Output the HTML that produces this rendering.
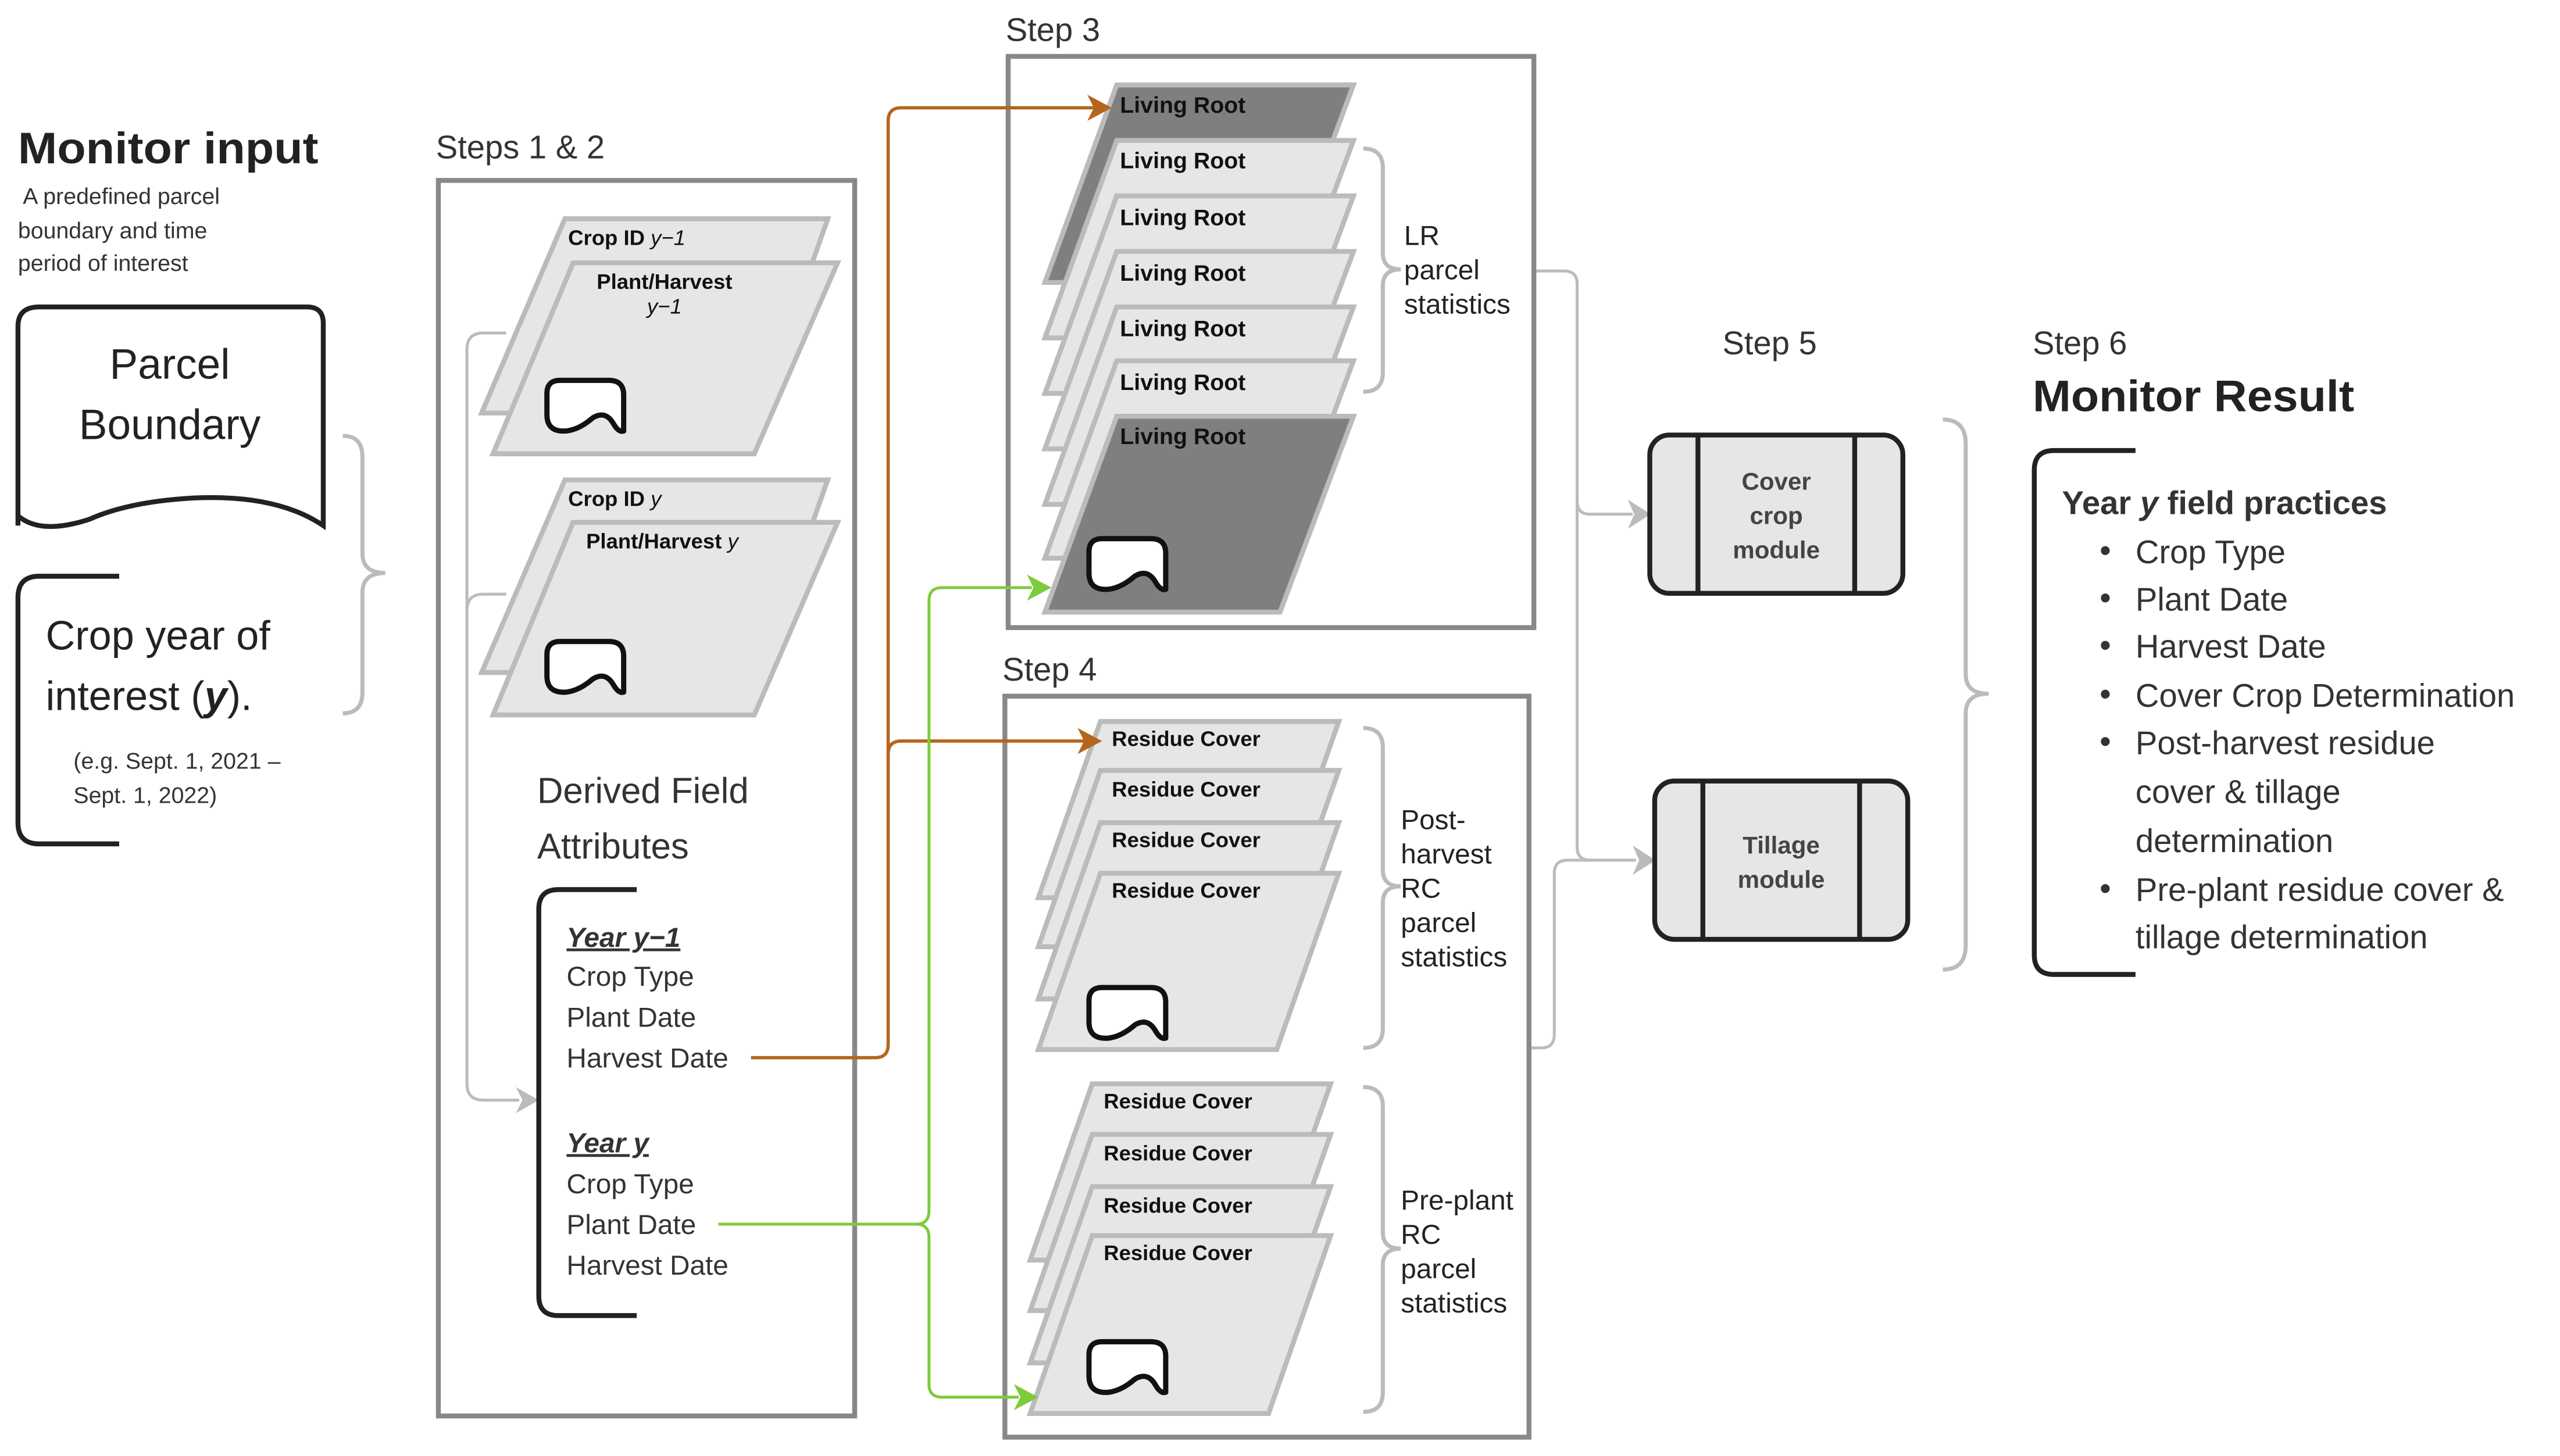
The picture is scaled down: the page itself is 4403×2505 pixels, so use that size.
<!DOCTYPE html>
<html><head><meta charset="utf-8"><style>
html,body{margin:0;padding:0;background:#fff;}
svg{display:block;}
text{font-family:"Liberation Sans",sans-serif;}
</style></head><body>
<svg xmlns="http://www.w3.org/2000/svg" width="4403" height="2505" viewBox="0 0 1568 892">
<defs>
<g id="blob"><path d="M2,9 Q2,1 10,1 L40,1 Q49,1 49,10 L49,32 Q46,33 43,28 Q38,19 30,24 Q22,31 14,32 Q2,33 2,22 Z" fill="#fff" stroke="#111" stroke-width="3.2" stroke-linejoin="round"/></g>
</defs>
<rect width="1568" height="892" fill="#fff"/>

<!-- Monitor input -->
<text x="11" y="100" font-size="27" font-weight="bold" fill="#222" textLength="184" lengthAdjust="spacingAndGlyphs">Monitor input</text>
<text font-size="14" fill="#333"><tspan x="14" y="125">A predefined parcel</tspan><tspan x="11" y="146">boundary and time</tspan><tspan x="11" y="166">period of interest</tspan></text>
<path d="M11,322 L11,200 Q11,188 24,188 L188,188 Q198,188 198,198 L198,322 Q170,303 120,305 Q80,307 55,318 Q25,328 11,316" fill="none" stroke="#222" stroke-width="3"/>
<text x="104" y="232" font-size="26" fill="#222" text-anchor="middle">Parcel</text>
<text x="104" y="269" font-size="26" fill="#222" text-anchor="middle">Boundary</text>
<path d="M73,353 L24,353 Q11,353 11,366 L11,504 Q11,517 24,517 L73,517" fill="none" stroke="#222" stroke-width="3"/>
<text x="28" y="398" font-size="25" fill="#222">Crop year of</text>
<text x="28" y="435" font-size="25" fill="#222">interest (<tspan font-weight="bold" font-style="italic">y</tspan>).</text>
<text x="45" y="471" font-size="14" fill="#333">(e.g. Sept. 1, 2021 –</text>
<text x="45" y="492" font-size="14" fill="#333">Sept. 1, 2022)</text>
<path d="M210,267 Q222,267 222,280 L222,339 Q222,351 236,351 Q222,351 222,363 L222,424 Q222,437 210,437" fill="none" stroke="#bbb" stroke-width="2.5"/>

<!-- Steps 1&2 -->
<text x="267" y="97" font-size="20" fill="#333">Steps 1 &amp; 2</text>
<rect x="268.5" y="110.5" width="255" height="757" fill="#fff" stroke="#888" stroke-width="3"/>
<path d="M310,204 L296,204 Q286,204 286,214 L286,664 Q286,674 296,674 L318,674" fill="none" stroke="#bbb" stroke-width="1.8"/>
<path d="M310,364 L296,364 Q286,364 286,374" fill="none" stroke="#bbb" stroke-width="1.8"/>
<polygon points="316,666 330,674 316,682 320,674" fill="#bbb"/>

<polygon points="346,134 507,134 465,253 295,253" fill="#e6e6e6" stroke="#bbb" stroke-width="3"/>
<polygon points="351,161 513,161 462,278 302,278" fill="#e6e6e6" stroke="#bbb" stroke-width="3"/>
<text x="348" y="150" font-size="13" font-weight="bold" fill="#111">Crop ID <tspan font-weight="normal" font-style="italic">y−1</tspan></text>
<text x="407" y="177" font-size="13" font-weight="bold" fill="#111" text-anchor="middle">Plant/Harvest</text>
<text x="407" y="192" font-size="13" font-style="italic" fill="#111" text-anchor="middle">y−1</text>
<use href="#blob" x="333" y="232"/>

<polygon points="346,294 507,294 465,412 295,412" fill="#e6e6e6" stroke="#bbb" stroke-width="3"/>
<polygon points="351,320 513,320 462,438 302,438" fill="#e6e6e6" stroke="#bbb" stroke-width="3"/>
<text x="348" y="310" font-size="13" font-weight="bold" fill="#111">Crop ID <tspan font-weight="normal" font-style="italic">y</tspan></text>
<text x="359" y="336" font-size="13" font-weight="bold" fill="#111">Plant/Harvest <tspan font-weight="normal" font-style="italic">y</tspan></text>
<use href="#blob" x="333" y="392"/>

<text x="329" y="492" font-size="22" fill="#333">Derived Field</text>
<text x="329" y="526" font-size="22" fill="#333">Attributes</text>
<path d="M390,545 L342,545 Q330,545 330,557 L330,794 Q330,806 342,806 L390,806" fill="none" stroke="#222" stroke-width="3"/>
<text x="347" y="580" font-size="17" font-weight="bold" font-style="italic" fill="#333" text-decoration="underline">Year y−1</text>
<text font-size="17" fill="#333"><tspan x="347" y="604">Crop Type</tspan><tspan x="347" y="629">Plant Date</tspan><tspan x="347" y="654">Harvest Date</tspan></text>
<text x="347" y="706" font-size="17" font-weight="bold" font-style="italic" fill="#333" text-decoration="underline">Year y</text>
<text font-size="17" fill="#333"><tspan x="347" y="731">Crop Type</tspan><tspan x="347" y="756">Plant Date</tspan><tspan x="347" y="781">Harvest Date</tspan></text>

<!-- Step 3 -->
<text x="616" y="25" font-size="20" fill="#333">Step 3</text>
<rect x="617.5" y="34.5" width="322" height="350" fill="#fff" stroke="#888" stroke-width="3"/>
<polygon points="684,52 829,52 784,173 640,173" fill="#7f7f7f" stroke="#bbb" stroke-width="3"/>
<polygon points="684,86 829,86 784,207 640,207" fill="#e6e6e6" stroke="#bbb" stroke-width="3"/>
<polygon points="684,120 829,120 784,241 640,241" fill="#e6e6e6" stroke="#bbb" stroke-width="3"/>
<polygon points="684,154 829,154 784,275 640,275" fill="#e6e6e6" stroke="#bbb" stroke-width="3"/>
<polygon points="684,188 829,188 784,309 640,309" fill="#e6e6e6" stroke="#bbb" stroke-width="3"/>
<polygon points="684,221 829,221 784,342 640,342" fill="#e6e6e6" stroke="#bbb" stroke-width="3"/>
<polygon points="684,255 829,255 784,375 640,375" fill="#7f7f7f" stroke="#bbb" stroke-width="3"/>
<g font-size="14" font-weight="bold" fill="#111">
<text x="686" y="69">Living Root</text><text x="686" y="103">Living Root</text><text x="686" y="138">Living Root</text><text x="686" y="172">Living Root</text><text x="686" y="206">Living Root</text><text x="686" y="239">Living Root</text><text x="686" y="272">Living Root</text>
</g>
<use href="#blob" x="665" y="329"/>
<path d="M835,91 Q847,91 847,103 L847,155 Q847,165 858,165 Q847,165 847,175 L847,228 Q847,240 835,240" fill="none" stroke="#bbb" stroke-width="2.5"/>
<text font-size="17" fill="#222"><tspan x="860" y="150">LR</tspan><tspan x="860" y="171">parcel</tspan><tspan x="860" y="192">statistics</tspan></text>

<!-- Step 4 -->
<text x="614" y="417" font-size="20" fill="#333">Step 4</text>
<rect x="615.5" y="426.5" width="321" height="454" fill="#fff" stroke="#888" stroke-width="3"/>
<polygon points="674,442 820,442 782,550 636,550" fill="#e6e6e6" stroke="#bbb" stroke-width="3"/>
<polygon points="674,472 820,472 782,580 636,580" fill="#e6e6e6" stroke="#bbb" stroke-width="3"/>
<polygon points="674,504 820,504 782,612 636,612" fill="#e6e6e6" stroke="#bbb" stroke-width="3"/>
<polygon points="674,535 820,535 782,643 636,643" fill="#e6e6e6" stroke="#bbb" stroke-width="3"/>
<polygon points="669,664 815,664 777,772 631,772" fill="#e6e6e6" stroke="#bbb" stroke-width="3"/>
<polygon points="669,695 815,695 777,803 631,803" fill="#e6e6e6" stroke="#bbb" stroke-width="3"/>
<polygon points="669,727 815,727 777,835 631,835" fill="#e6e6e6" stroke="#bbb" stroke-width="3"/>
<polygon points="669,757 815,757 777,866 631,866" fill="#e6e6e6" stroke="#bbb" stroke-width="3"/>
<g font-size="13" font-weight="bold" fill="#111">
<text x="681" y="457">Residue Cover</text><text x="681" y="488">Residue Cover</text><text x="681" y="519">Residue Cover</text><text x="681" y="550">Residue Cover</text>
<text x="676" y="679">Residue Cover</text><text x="676" y="711">Residue Cover</text><text x="676" y="743">Residue Cover</text><text x="676" y="772">Residue Cover</text>
</g>
<use href="#blob" x="665" y="604"/>
<use href="#blob" x="665" y="821"/>
<path d="M835,446 Q847,446 847,458 L847,533 Q847,543 858,543 Q847,543 847,553 L847,630 Q847,642 835,642" fill="none" stroke="#bbb" stroke-width="2.5"/>
<text font-size="17" fill="#222"><tspan x="858" y="508">Post-</tspan><tspan x="858" y="529">harvest</tspan><tspan x="858" y="550">RC</tspan><tspan x="858" y="571">parcel</tspan><tspan x="858" y="592">statistics</tspan></text>
<path d="M835,666 Q847,666 847,678 L847,755 Q847,765 858,765 Q847,765 847,775 L847,853 Q847,865 835,865" fill="none" stroke="#bbb" stroke-width="2.5"/>
<text font-size="17" fill="#222"><tspan x="858" y="741">Pre-plant</tspan><tspan x="858" y="762">RC</tspan><tspan x="858" y="783">parcel</tspan><tspan x="858" y="804">statistics</tspan></text>

<!-- colored connectors -->
<path d="M460,648 L536,648 Q544,648 544,640 L544,74 Q544,66 552,66 L672,66" fill="none" stroke="#b5651d" stroke-width="2"/>
<path d="M544,462 Q544,454 552,454 L665,454" fill="none" stroke="#b5651d" stroke-width="2"/>
<polygon points="666,58 681,66 666,74 670,66" fill="#b5651d"/>
<polygon points="660,446 675,454 660,462 664,454" fill="#b5651d"/>
<path d="M440,750 L561,750 Q569,750 569,742 L569,368 Q569,360 577,360 L632,360" fill="none" stroke="#7dcc3c" stroke-width="1.8"/>
<path d="M561,750 Q569,750 569,758 L569,848 Q569,856 577,856 L624,856" fill="none" stroke="#7dcc3c" stroke-width="1.8"/>
<polygon points="629,352 644,360 629,368 633,360" fill="#7dcc3c"/>
<polygon points="621,848 636,856 621,864 625,856" fill="#7dcc3c"/>

<!-- gray connectors to step 5 -->
<path d="M941,166 L958,166 Q966,166 966,174 L966,307 Q966,315 974,315 L1000,315" fill="none" stroke="#bbb" stroke-width="1.8"/>
<path d="M966,307 L966,519 Q966,527 974,527 L1002,527" fill="none" stroke="#bbb" stroke-width="1.8"/>
<path d="M938,642 L944,642 Q952,642 952,634 L952,535 Q952,527 960,527 L1002,527" fill="none" stroke="#bbb" stroke-width="1.8"/>
<polygon points="997,306 1011,315 997,324 1001,315" fill="#bbb"/>
<polygon points="1000,518 1014,527 1000,536 1004,527" fill="#bbb"/>

<!-- Step 5 -->
<text x="1055" y="217" font-size="20" fill="#333">Step 5</text>
<rect x="1010.5" y="266.5" width="155" height="97" rx="12" fill="#e6e6e6" stroke="#222" stroke-width="3"/>
<line x1="1040" y1="267" x2="1040" y2="363" stroke="#222" stroke-width="3"/>
<line x1="1136" y1="267" x2="1136" y2="363" stroke="#222" stroke-width="3"/>
<g font-size="15" font-weight="bold" fill="#444" text-anchor="middle">
<text x="1088" y="300">Cover</text><text x="1088" y="321">crop</text><text x="1088" y="342">module</text>
</g>
<rect x="1013.5" y="478.5" width="155" height="97" rx="12" fill="#e6e6e6" stroke="#222" stroke-width="3"/>
<line x1="1043" y1="479" x2="1043" y2="575" stroke="#222" stroke-width="3"/>
<line x1="1139" y1="479" x2="1139" y2="575" stroke="#222" stroke-width="3"/>
<g font-size="15" font-weight="bold" fill="#444" text-anchor="middle">
<text x="1091" y="523">Tillage</text><text x="1091" y="544">module</text>
</g>
<path d="M1190,257 Q1204,257 1204,272 L1204,413 Q1204,425 1218,425 Q1204,425 1204,437 L1204,579 Q1204,594 1190,594" fill="none" stroke="#bbb" stroke-width="2.5"/>

<!-- Step 6 -->
<text x="1245" y="217" font-size="20" fill="#333">Step 6</text>
<text x="1245" y="252" font-size="27" font-weight="bold" fill="#222" textLength="197" lengthAdjust="spacingAndGlyphs">Monitor Result</text>
<path d="M1308,276 L1258,276 Q1246,276 1246,288 L1246,585 Q1246,597 1258,597 L1308,597" fill="none" stroke="#222" stroke-width="3"/>
<text x="1263" y="315" font-size="20" font-weight="bold" fill="#333">Year <tspan font-style="italic">y</tspan> field practices</text>
<g font-size="20" fill="#333">
<text x="1286" y="344">•</text><text x="1308" y="345">Crop Type</text>
<text x="1286" y="373">•</text><text x="1308" y="374">Plant Date</text>
<text x="1286" y="402">•</text><text x="1308" y="403">Harvest Date</text>
<text x="1286" y="432">•</text><text x="1308" y="433">Cover Crop Determination</text>
<text x="1286" y="461">•</text><text x="1308" y="462">Post-harvest residue</text>
<text x="1308" y="492">cover &amp; tillage</text>
<text x="1308" y="522">determination</text>
<text x="1286" y="551">•</text><text x="1308" y="552">Pre-plant residue cover &amp;</text>
<text x="1308" y="581">tillage determination</text>
</g>
</svg>
</body></html>
